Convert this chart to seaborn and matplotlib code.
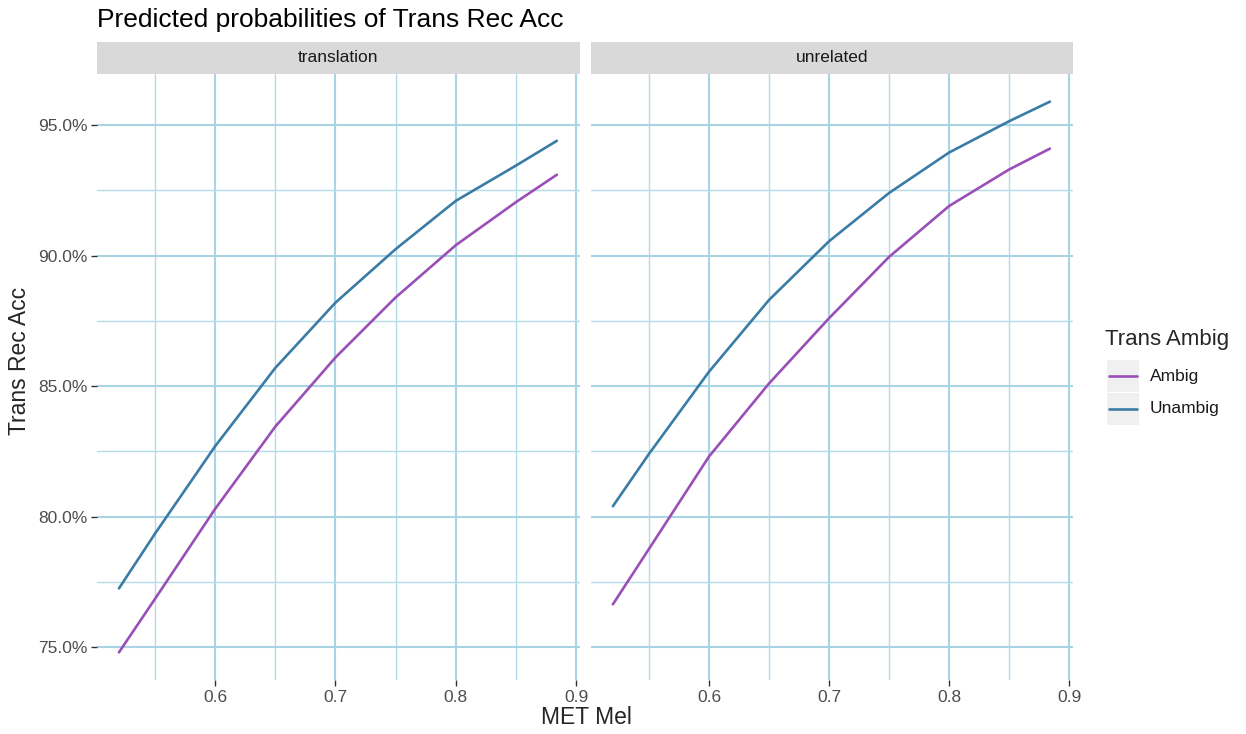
import numpy as np
import pandas as pd
import matplotlib
matplotlib.use("Agg")
import matplotlib.pyplot as plt
import seaborn as sns
from matplotlib.patches import Rectangle
from matplotlib.lines import Line2D
from matplotlib.ticker import FuncFormatter

# --- Data (percent) ---
met_mel = [0.52, 0.55, 0.60, 0.65, 0.70, 0.75, 0.80, 0.85, 0.884]
translation_ambig = [74.8, 76.85, 80.3, 83.45, 86.1, 88.4, 90.4, 92.05, 93.1]
translation_unambig = [77.25, 79.35, 82.7, 85.7, 88.2, 90.25, 92.1, 93.45, 94.4]
unrelated_ambig = [76.64, 78.76, 82.3, 85.1, 87.6, 89.95, 91.9, 93.3, 94.1]
unrelated_unambig = [80.4, 82.4, 85.55, 88.3, 90.55, 92.4, 93.95, 95.15, 95.9]

conditions = ["translation", "unrelated"]
ambig_levels = ["Ambig", "Unambig"]
palette = {"Ambig": "#9a4fb7", "Unambig": "#3a7ca5"}

series = {
    ("translation", "Ambig"): translation_ambig,
    ("translation", "Unambig"): translation_unambig,
    ("unrelated", "Ambig"): unrelated_ambig,
    ("unrelated", "Unambig"): unrelated_unambig,
}
rows = []
for (cond, amb), vals in series.items():
    for x, y in zip(met_mel, vals):
        rows.append({"MET Mel": x, "Trans Rec Acc": y, "Trans Ambig": amb, "condition": cond})
df = pd.DataFrame(rows)

# --- Style ---
sns.set_style("white")
plt.rcParams['font.family'] = ['Liberation Sans', 'DejaVu Sans']

W, H = 1246, 734
fig = plt.figure(figsize=(W / 100, H / 100), dpi=100)

def px_axes(x0, x1, y0, y1):
    return fig.add_axes([x0 / W, 1 - y1 / H, (x1 - x0) / W, (y1 - y0) / H])

ax_l = px_axes(97, 580, 74, 680)
ax_r = px_axes(591, 1073, 74, 680)
strip_h = 32 / 606

for ax, cond in zip([ax_l, ax_r], conditions):
    sub = df[df["condition"] == cond]
    sns.lineplot(data=sub, x="MET Mel", y="Trans Rec Acc", hue="Trans Ambig",
                 hue_order=ambig_levels, palette=palette, linewidth=1.9,
                 legend=False, ax=ax, zorder=3)
    ax.set_xlim(0.50175, 0.90325)
    ax.set_ylim(73.74, 96.96)
    ax.set_xticks([0.6, 0.7, 0.8, 0.9])
    ax.set_xticks([0.55, 0.65, 0.75, 0.85], minor=True)
    ax.set_yticks([75, 80, 85, 90, 95])
    ax.set_yticks([77.5, 82.5, 87.5, 92.5], minor=True)
    ax.xaxis.set_major_formatter(FuncFormatter(lambda v, p: f"{v:.1f}"))
    ax.yaxis.set_major_formatter(FuncFormatter(lambda v, p: f"{v:.1f}%"))
    ax.grid(which="major", color="#a8d4e6", linewidth=1.5)
    ax.grid(which="minor", color="#b4dbea", linewidth=1.0)
    ax.set_axisbelow(True)
    for s in ax.spines.values():
        s.set_visible(False)
    ax.tick_params(which="major", length=4, width=1.0, color="#333333",
                   labelcolor="#4d4d4d", labelsize=12.5, pad=3)
    ax.tick_params(which="minor", length=0)
    ax.tick_params(axis="x", bottom=True)
    ax.tick_params(axis="y", left=True)
    ax.set_xlabel("")
    ax.set_ylabel("")
    # facet strip
    ax.add_patch(Rectangle((0, 1), 1, strip_h, transform=ax.transAxes,
                           clip_on=False, facecolor="#d9d9d9", edgecolor="none"))
    ax.text(0.5, 1 + strip_h / 2, cond, transform=ax.transAxes, ha="center",
            va="center", fontsize=12.5, color="#1a1a1a")

ax_r.tick_params(axis="y", left=False, labelleft=False)

# --- Titles ---
fig.text(97 / W, 1 - 20 / H, "Predicted probabilities of Trans Rec Acc",
         fontsize=19, va="center", ha="left", color="#000000")
fig.text(586 / W, 1 - 718 / H, "MET Mel", fontsize=16.5, ha="center", va="center")
fig.text(20 / W, 1 - 361 / H, "Trans Rec Acc", fontsize=16.5, rotation=90,
         ha="center", va="center")

# --- Legend ---
fig.text(1105 / W, 1 - 340 / H, "Trans Ambig", fontsize=16, ha="left", va="center")
for i, amb in enumerate(ambig_levels):
    y0 = 360 + i * 33
    fig.patches.append(Rectangle((1107 / W, 1 - (y0 + 32) / H), 32 / W, 32 / H,
                                 transform=fig.transFigure, facecolor="#f0f0f0",
                                 edgecolor="none"))
    yc = 1 - (y0 + 16) / H
    fig.lines.append(Line2D([1109 / W, 1137 / W], [yc, yc], transform=fig.transFigure,
                            color=palette[amb], linewidth=1.9))
    fig.text(1150 / W, yc, amb, fontsize=12.5, ha="left", va="center", color="#1a1a1a")

fig.savefig("out.png", dpi=100, facecolor="white")
